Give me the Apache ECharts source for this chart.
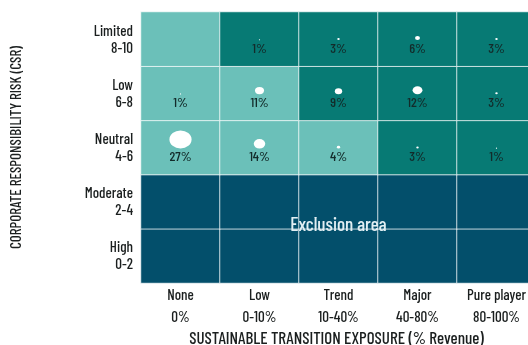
<!DOCTYPE html>
<html>
<head>
<meta charset="utf-8">
<script src="https://cdn.jsdelivr.net/npm/echarts@6/dist/echarts.min.js"></script>
<style>
  html, body { margin: 0; padding: 0; background: #ffffff; }
  #chart { width: 528px; height: 345px; }
</style>
</head>
<body>
<div id="chart"></div>
<script>
// Sustainable transition exposure (columns) vs. CSR risk (rows)
const exposureNames = ['None', 'Low', 'Trend', 'Major', 'Pure player'];
const exposureRanges = ['0%', '0-10%', '10-40%', '40-80%', '80-100%'];
// rows listed bottom to top
const riskNames = ['High', 'Moderate', 'Neutral', 'Low', 'Limited'];
const riskRanges = ['0-2', '2-4', '4-6', '6-8', '8-10'];

// zone per cell: 0 = eligible (light), 1 = preferred (dark), 2 = exclusion
const zoneLimited  = [0, 1, 1, 1, 1];
const zoneLow      = [0, 0, 1, 1, 1];
const zoneNeutral  = [0, 0, 0, 1, 1];
const zoneModerate = [2, 2, 2, 2, 2];
const zoneHigh     = [2, 2, 2, 2, 2];

// share of portfolio (%) per cell, null where empty
const pctLimited  = [null, 1, 3, 6, 3];
const pctLow      = [1, 11, 9, 12, 3];
const pctNeutral  = [27, 14, 4, 3, 1];
const pctModerate = [null, null, null, null, null];
const pctHigh     = [null, null, null, null, null];

const zoneRows = [zoneHigh, zoneModerate, zoneNeutral, zoneLow, zoneLimited];
const pctRows  = [pctHigh, pctModerate, pctNeutral, pctLow, pctLimited];

const FONT = '"Barlow Condensed", "Roboto Condensed", "Open Sans", sans-serif';
const INK = '#1b1f1f';

const cells = [];
const bubbles = [];
zoneRows.forEach((row, y) => {
  row.forEach((zone, x) => {
    const pct = pctRows[y][x];
    cells.push([x, y, zone, pct]);
    if (pct != null) {
      const w = pct * 0.82, h = pct * 0.67;
      bubbles.push({
        value: [x, y, pct],
        symbolSize: [Math.max(w, 1.2), Math.max(h, 1.2)],
        symbolOffset: [0, -h / 2 + 1]
      });
    }
  });
});

const chart = echarts.init(document.getElementById('chart'), null, { renderer: 'canvas' });

chart.setOption({
  animation: false,
  backgroundColor: '#ffffff',
  grid: { left: 141, top: 12, width: 395, height: 271, outerBoundsMode: 'none', containLabel: false },
  xAxis: {
    type: 'category',
    data: exposureNames.map((n, i) => n + '\n' + exposureRanges[i]),
    axisLine: { show: false },
    axisTick: { show: false },
    splitLine: { show: false },
    axisLabel: {
      color: INK, fontSize: 15, fontWeight: 500, fontFamily: FONT,
      lineHeight: 22, margin: 1, interval: 0
    },
    name: 'SUSTAINABLE TRANSITION EXPOSURE (% Revenue)',
    nameLocation: 'middle',
    nameGap: 47,
    nameMoveOverlap: false,
    nameTextStyle: {
      color: INK, fontSize: 17, fontWeight: 500, fontFamily: FONT,
      verticalAlign: 'top', padding: [0, 0, 0, -4]
    }
  },
  yAxis: {
    type: 'category',
    data: riskNames.map((n, i) => n + '\n' + riskRanges[i]),
    axisLine: { show: false },
    axisTick: { show: false },
    splitLine: { show: false },
    axisLabel: {
      color: INK, fontSize: 15, fontWeight: 500, fontFamily: FONT,
      lineHeight: 17, margin: 8, align: 'right', padding: [5, 0, 0, 0]
    },
    name: 'CORPORATE RESPONSIBILITY RISK (CSR)',
    nameLocation: 'middle',
    nameGap: 118,
    nameMoveOverlap: false,
    nameTextStyle: { color: INK, fontSize: 15, fontWeight: 500, fontFamily: FONT }
  },
  visualMap: {
    show: false,
    type: 'piecewise',
    dimension: 2,
    seriesIndex: 0,
    pieces: [
      { value: 0, color: '#6bc0b9' },
      { value: 1, color: '#077a74' },
      { value: 2, color: '#034f6b' }
    ]
  },
  series: [
    {
      type: 'heatmap',
      data: cells,
      itemStyle: { borderColor: 'rgba(255,255,255,0.75)', borderWidth: 1 },
      label: {
        show: true,
        formatter: p => (p.data[3] == null ? '' : p.data[3] + '%'),
        color: '#132b2a',
        fontSize: 14,
        fontWeight: 500,
        fontFamily: FONT,
        offset: [0, 9]
      },
      emphasis: { disabled: true }
    },
    {
      type: 'scatter',
      data: bubbles,
      symbol: 'circle',
      itemStyle: { color: '#ffffff', opacity: 1 },
      z: 5,
      silent: true
    }
  ]
});

// Exclusion-zone caption, centred on the line between the two excluded rows
const highCentre = chart.convertToPixel({ gridIndex: 0 }, [2, 0]);
const moderateCentre = chart.convertToPixel({ gridIndex: 0 }, [2, 1]);
const captionX = highCentre[0];
const captionY = (highCentre[1] + moderateCentre[1]) / 2;
chart.setOption({
  graphic: [
    {
      type: 'text',
      x: captionX, y: captionY - 4,
      style: {
        text: 'Exclusion area', fill: '#e2eff3', font: '500 19px ' + FONT,
        textAlign: 'center', textVerticalAlign: 'middle'
      },
      z: 10
    }
  ]
});
</script>
</body>
</html>
